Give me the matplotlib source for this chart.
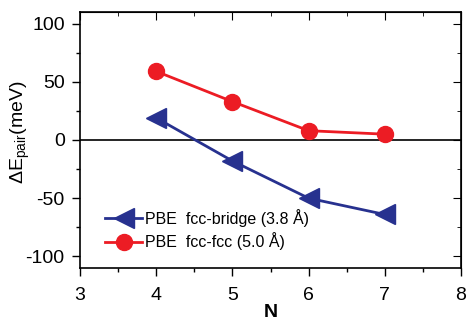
import matplotlib.pyplot as plt
from matplotlib.ticker import MultipleLocator

plt.rcParams['font.family'] = ['Liberation Sans', 'DejaVu Sans']
plt.rcParams['axes.unicode_minus'] = False
plt.rcParams['mathtext.fontset'] = 'custom'
plt.rcParams['mathtext.rm'] = 'Liberation Sans'

# data
n_vals = [4, 5, 6, 7]
bridge = [19, -18, -50, -64]
fcc = [59, 33, 8, 5]

fig = plt.figure(figsize=(4.68, 3.23), dpi=100)
ax = fig.add_axes([80 / 468, 1 - 268 / 323, 381 / 468, 256 / 323])

ax.axhline(0, color='black', lw=1.2, zorder=1)
ax.plot(n_vals, bridge, color='#27318f', marker='<', markersize=14, lw=2,
        label='PBE  fcc-bridge (3.8 Å)')
ax.plot(n_vals, fcc, color='#ec1c24', marker='o', markersize=11.5, lw=2,
        label='PBE  fcc-fcc (5.0 Å)')

ax.set_xlim(3, 8)
ax.set_ylim(-110, 110)
ax.xaxis.set_major_locator(MultipleLocator(1))
ax.xaxis.set_minor_locator(MultipleLocator(0.5))
ax.yaxis.set_major_locator(MultipleLocator(50))
ax.yaxis.set_minor_locator(MultipleLocator(25))
ax.tick_params(which='both', direction='out', labelsize=14, width=1)
ax.tick_params(which='major', length=6)
ax.tick_params(which='minor', length=3)
ax.tick_params(axis='x', pad=8)
ax.tick_params(axis='y', pad=5)
for s in ax.spines.values():
    s.set_linewidth(1.2)

# mirrored inward ticks on top and right
top = ax.secondary_xaxis('top')
top.xaxis.set_major_locator(MultipleLocator(1))
top.xaxis.set_minor_locator(MultipleLocator(0.5))
top.tick_params(which='both', direction='in', labeltop=False)
top.tick_params(which='major', length=6)
top.tick_params(which='minor', length=3)
right = ax.secondary_yaxis('right')
right.yaxis.set_major_locator(MultipleLocator(50))
right.yaxis.set_minor_locator(MultipleLocator(25))
right.tick_params(which='both', direction='in', labelright=False)
right.tick_params(which='major', length=6)
right.tick_params(which='minor', length=3)

ax.set_xlabel('N', fontsize=14, fontweight='bold', labelpad=0)
ax.set_ylabel('ΔE$_{\\mathrm{pair}}$(meV)', fontsize=14)
ax.yaxis.set_label_coords(-0.125, 0.53)

ax.legend(loc='lower left', bbox_to_anchor=(0.05, 0.045), frameon=False,
          fontsize=11.5, handlelength=2.3, handletextpad=0.2,
          labelspacing=0.35, borderaxespad=0)

fig.savefig('out.png', dpi=100)
